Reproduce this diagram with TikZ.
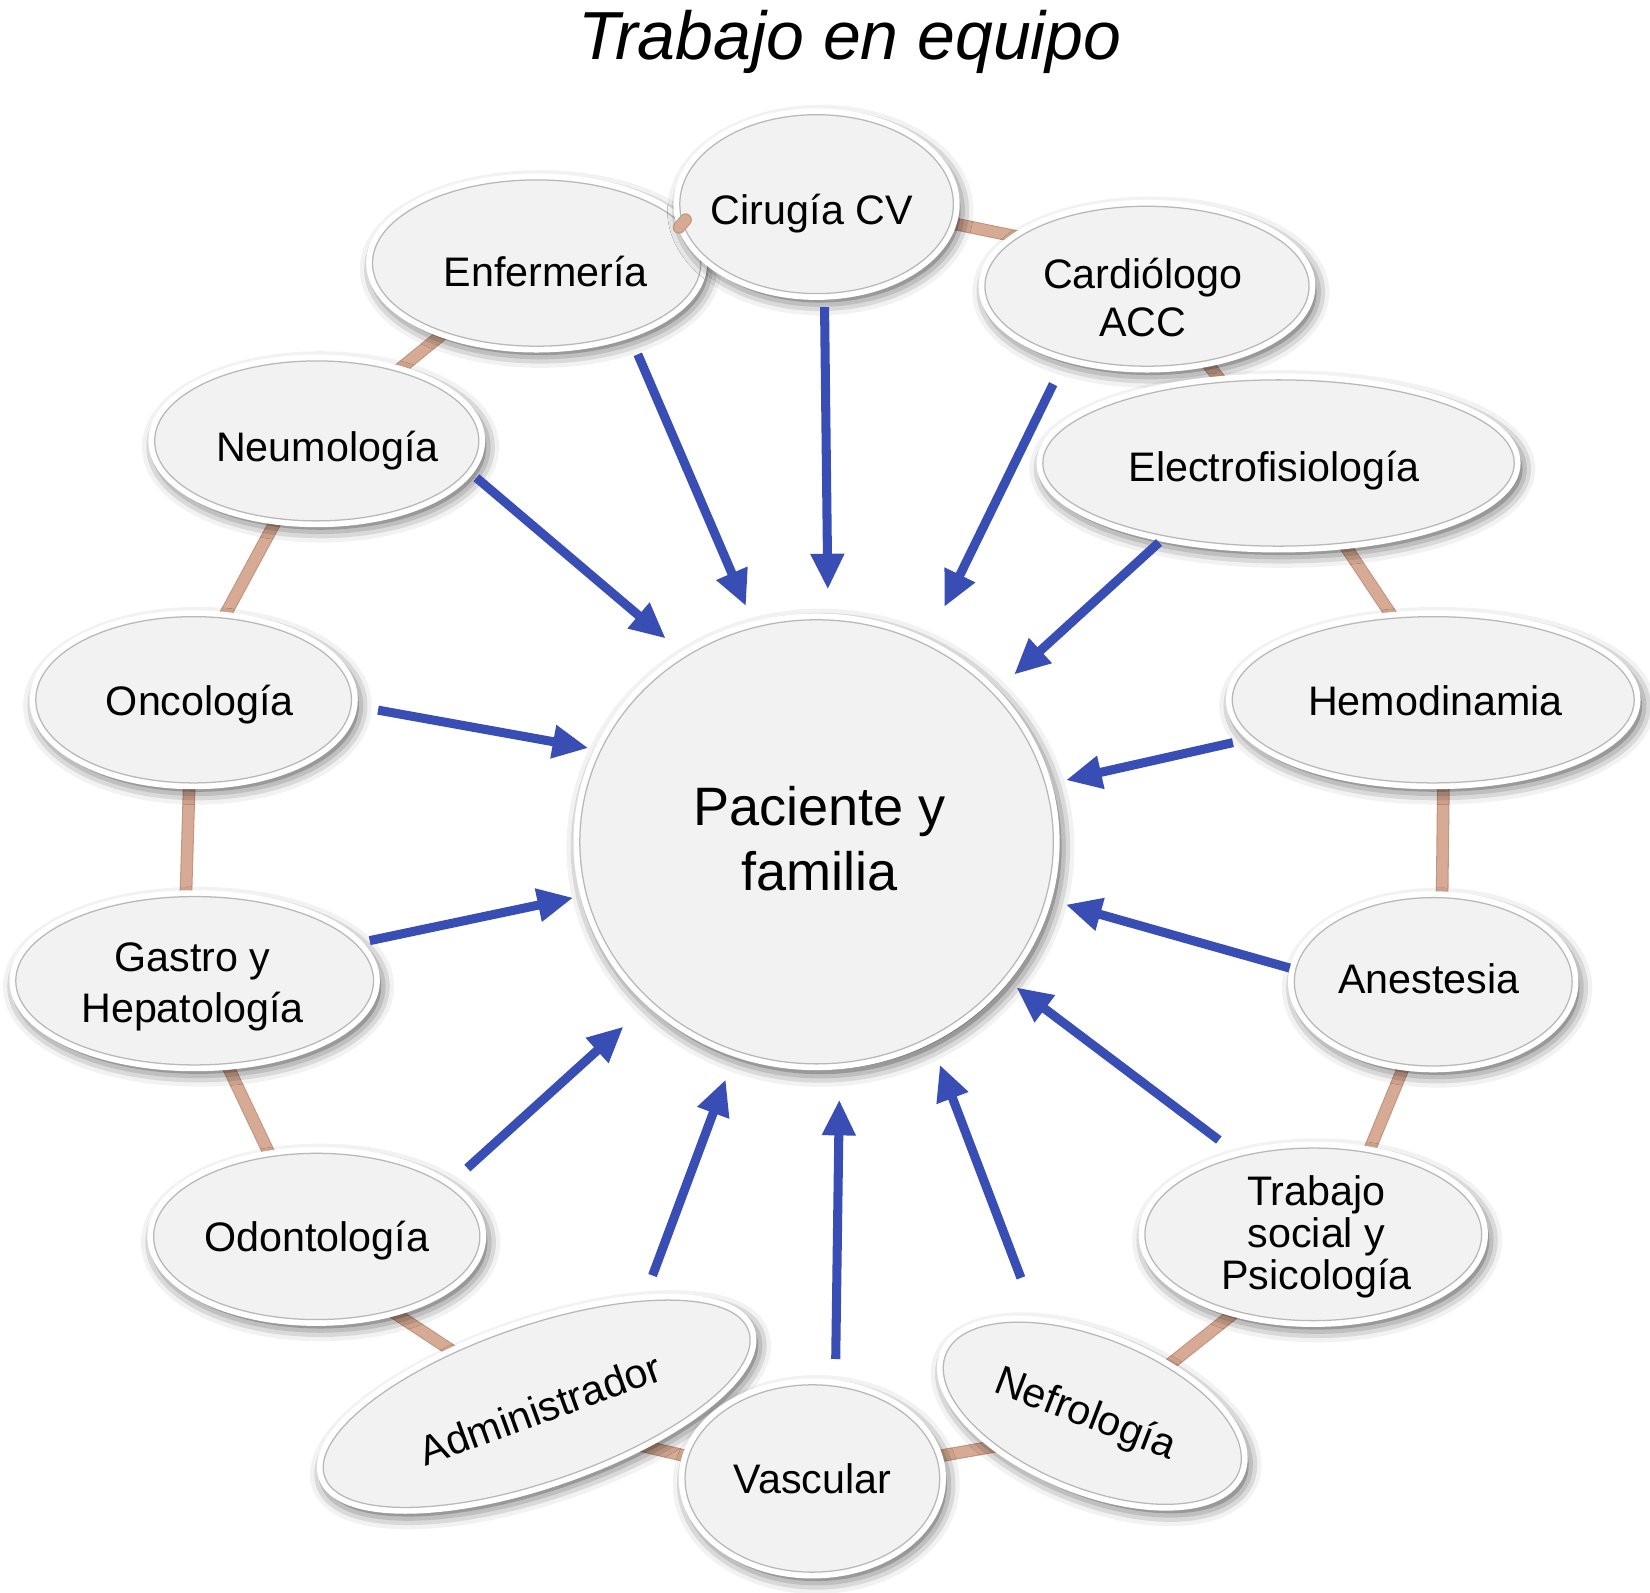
\documentclass[tikz,border=0pt]{standalone}
\usepackage{fontspec}
\setmainfont{Liberation Sans}
\usetikzlibrary{shapes.geometric,arrows.meta,shadows.blur,backgrounds}
\definecolor{bfill}{RGB}{242,242,242}
\definecolor{arrblue}{RGB}{57,78,180}
\definecolor{tanc}{RGB}{214,170,148}
\definecolor{tanedge}{RGB}{192,148,126}
\newcommand\lblfont{\fontsize{19.6}{23.5}\selectfont}
\begin{document}
\begin{tikzpicture}[x=0.5pt,y=-0.5pt,
  bubble/.style={ellipse, fill=bfill, draw=black!28, line width=0.6pt,
    inner sep=0pt, outer sep=0pt,
    blur shadow={shadow xshift=1.8pt, shadow yshift=-2.8pt, shadow blur radius=7pt,
      shadow opacity=80, shadow scale=1.01},
    preaction={draw=white, line width=6pt}},
  lbl/.style={font=\lblfont, inner sep=0pt, anchor=base},
  mlbl/.style={font=\lblfont, inner sep=0pt, align=center},
  arr/.style={draw=arrblue, line width=4.3pt, -{Triangle[length=17pt,width=15pt]}},
  link/.style={draw=tanc, line width=5pt, line cap=round,
    preaction={draw=tanedge, line width=6pt, line cap=round}}]
\useasboundingbox (0,0) rectangle (1568,1513);

\node[font=\itshape\fontsize{32.3}{38}\selectfont, anchor=base] (title) at (808,57) {Trabajo en equipo};

% bubbles
\node[bubble, minimum width=225pt, minimum height=211pt] (pac) at (776,800) {};
\node[bubble, minimum width=156pt, minimum height=79pt] (enf) at (510,250) {};
\node[bubble, minimum width=154pt, minimum height=76pt] (car) at (1090,272) {};
\node[bubble, minimum width=154pt, minimum height=76pt] (neu) at (301,419) {};
\node[bubble, minimum width=224pt, minimum height=79pt] (ele) at (1215,440) {};
\node[bubble, minimum width=150pt, minimum height=79pt] (onc) at (184,665) {};
\node[bubble, minimum width=191pt, minimum height=79pt] (hem) at (1362,665) {};
\node[bubble, minimum width=170pt, minimum height=80pt] (gas) at (185,932) {};
\node[bubble, minimum width=132pt, minimum height=80pt] (ane) at (1362,933) {};
\node[bubble, minimum width=155pt, minimum height=79pt] (odo) at (301,1175) {};
\node[bubble, minimum width=160pt, minimum height=82pt] (tra) at (1248,1173) {};
\node[bubble, minimum width=213pt, minimum height=74pt, rotate=19] (adm) at (510,1334) {};
\node[bubble, minimum width=150pt, minimum height=71pt, rotate=-22] (nef) at (1038,1343) {};
\node[bubble, minimum width=130pt, minimum height=85pt] (cir) at (776,194) {};
\node[bubble, minimum width=121pt, minimum height=89pt] (vas) at (772,1405) {};

% texts
\node[font=\fontsize{25.7}{31}\selectfont, inner sep=0pt, align=center] (pact) at (779,797) {Paciente y\\familia};
\node[lbl] (cirt) at (771.5,213) {Cirugía CV};
\node[lbl] (enft) at (518.5,272) {Enfermería};
\node[mlbl, font=\fontsize{19.6}{23}\selectfont] (cart) at (1086,283) {Cardiólogo\\ACC};
\node[lbl] (neut) at (311,439) {Neumología};
\node[lbl] (elet) at (1211,458) {Electrofisiología};
\node[lbl] (onct) at (190,680) {Oncología};
\node[lbl] (hemt) at (1364,680) {Hemodinamia};
\node[mlbl, font=\fontsize{19.6}{24}\selectfont] (gast) at (183,938) {Gastro y\\Hepatología};
\node[lbl] (anet) at (1358,944) {Anestesia};
\node[lbl] (odot) at (301,1189) {Odontología};
\node[mlbl, font=\fontsize{19.6}{20}\selectfont] (trat) at (1251,1175) {Trabajo\\social y\\Psicología};
\node[font=\lblfont, inner sep=0pt, rotate=20] (admt) at (513,1339) {Administrador};
\node[font=\lblfont, inner sep=0pt, rotate=-21] (neft) at (1031,1345) {Nefrología};
\node[lbl] (vast) at (772,1419) {Vascular};

% tan links behind the bubbles
\begin{scope}[on background layer]
\draw[link] (cir.-8) -- (car.159);
\draw[link] (enf.-143) -- (neu.41);
\draw[link] (car.-52) -- (ele.125);
\draw[link] (neu.-117) -- (onc.70);
\draw[link] (ele.-51) -- (hem.116);
\draw[link] (onc.-93) -- (gas.96);
\draw[link] (hem.-83) -- (ane.84);
\draw[link] (gas.-69) -- (odo.120);
\draw[link] (ane.-109) -- (tra.56);
\draw[link] (odo.-45) -- (adm.129.5);
\draw[link] (tra.-135) -- (nef.54);
\draw[link] (adm.-41) -- (vas.170);
\draw[link] (vas.10) -- (nef.221);
\end{scope}
\draw[link, shorten <=-2pt, shorten >=-2pt] (enf.15) -- (cir.-172);

% arrows towards the patient
\draw[arr, shorten <=11.5pt, shorten >=11pt] (enf.-37) -- (pac.106);
\draw[arr, shorten <=6.5pt, shorten >=14.5pt] (cir.-85) -- (pac.87);
\draw[arr, shorten <=15pt, shorten >=20pt] (car.-139) -- (pac.61);
\draw[arr, shorten <=5.5pt, shorten >=13pt] (neu.-11) -- (pac.125);
\draw[arr, shorten <=4.5pt, shorten >=13.5pt] (ele.-147) -- (pac.40);
\draw[arr, shorten <=13pt, shorten >=6pt] (onc.-2) -- (pac.157);
\draw[arr, shorten <=10.5pt, shorten >=10pt] (hem.-168) -- (pac.14);
\draw[arr, shorten <=7pt, shorten >=6.5pt] (gas.13.6) -- (pac.-167);
\draw[arr, shorten <=3pt, shorten >=10pt] (ane.175) -- (pac.-14);
\draw[arr, shorten <=13pt, shorten >=18pt] (odo.21) -- (pac.-136);
\draw[arr, shorten <=13pt, shorten >=7.5pt] (tra.133) -- (pac.-36.5);
\draw[arr, shorten <=13pt, shorten >=14.5pt] (adm.25) -- (pac.-111);
\draw[arr, shorten <=13pt, shorten >=17.5pt] (vas.76) -- (pac.-84);
\draw[arr, shorten <=23pt, shorten >=14pt] (nef.143.3) -- (pac.-60);
\end{tikzpicture}
\end{document}
